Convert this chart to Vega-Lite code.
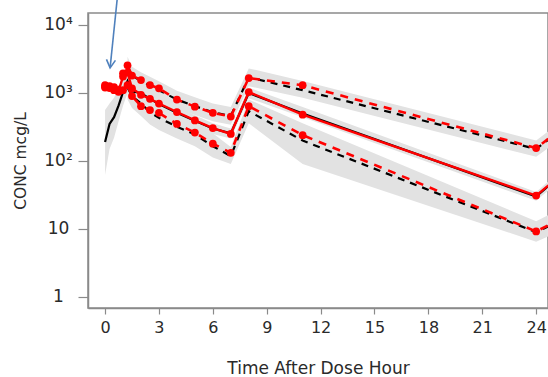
{
  "$schema": "https://vega.github.io/schema/vega-lite/v6.json",
  "width": 460,
  "height": 295,
  "autosize": "none",
  "padding": {"left": 88, "top": 13, "right": 0, "bottom": 69},
  "background": "white",
  "config": {
    "view": {"stroke": "#8a8a8a", "strokeWidth": 1.5},
    "axis": {"grid": false, "labelFont": "DejaVu Sans", "titleFont": "DejaVu Sans", "labelColor": "#2a2a2a", "titleColor": "#2a2a2a", "titleFontWeight": "normal", "domainColor": "#8a8a8a", "domainWidth": 1.5, "tickColor": "#8a8a8a", "tickWidth": 1.2}
  },
  "datasets": {
    "obs": [
      {"p": "q95", "t": 0, "v": 1300}, {"p": "q95", "t": 0.25, "v": 1260}, {"p": "q95", "t": 0.5, "v": 1220}, {"p": "q95", "t": 0.75, "v": 1100}, {"p": "q95", "t": 1, "v": 1950}, {"p": "q95", "t": 1.25, "v": 2550}, {"p": "q95", "t": 1.5, "v": 1800}, {"p": "q95", "t": 2, "v": 1550}, {"p": "q95", "t": 2.5, "v": 1310}, {"p": "q95", "t": 3, "v": 1170}, {"p": "q95", "t": 4, "v": 800}, {"p": "q95", "t": 5, "v": 630}, {"p": "q95", "t": 6, "v": 510}, {"p": "q95", "t": 7, "v": 450}, {"p": "q95", "t": 8, "v": 1660}, {"p": "q95", "t": 11, "v": 1300}, {"p": "q95", "t": 24, "v": 155}, {"p": "q95", "t": 26, "v": 390},
      {"p": "q50", "t": 0, "v": 1250}, {"p": "q50", "t": 0.25, "v": 1220}, {"p": "q50", "t": 0.5, "v": 1150}, {"p": "q50", "t": 0.75, "v": 1070}, {"p": "q50", "t": 1, "v": 1740}, {"p": "q50", "t": 1.25, "v": 2000}, {"p": "q50", "t": 1.5, "v": 1170}, {"p": "q50", "t": 2, "v": 940}, {"p": "q50", "t": 2.5, "v": 820}, {"p": "q50", "t": 3, "v": 700}, {"p": "q50", "t": 4, "v": 525}, {"p": "q50", "t": 5, "v": 395}, {"p": "q50", "t": 6, "v": 305}, {"p": "q50", "t": 7, "v": 250}, {"p": "q50", "t": 8, "v": 1030}, {"p": "q50", "t": 11, "v": 480}, {"p": "q50", "t": 24, "v": 31}, {"p": "q50", "t": 26, "v": 85},
      {"p": "q05", "t": 0, "v": 1200}, {"p": "q05", "t": 0.25, "v": 1180}, {"p": "q05", "t": 0.5, "v": 1100}, {"p": "q05", "t": 0.75, "v": 1040}, {"p": "q05", "t": 1, "v": 1100}, {"p": "q05", "t": 1.25, "v": 1300}, {"p": "q05", "t": 1.5, "v": 900}, {"p": "q05", "t": 2, "v": 640}, {"p": "q05", "t": 2.5, "v": 560}, {"p": "q05", "t": 3, "v": 510}, {"p": "q05", "t": 4, "v": 350}, {"p": "q05", "t": 5, "v": 262}, {"p": "q05", "t": 6, "v": 180}, {"p": "q05", "t": 7, "v": 132}, {"p": "q05", "t": 8, "v": 640}, {"p": "q05", "t": 11, "v": 240}, {"p": "q05", "t": 24, "v": 9.2}, {"p": "q05", "t": 26, "v": 17}
    ],
    "pred": [
      {"p": "m50", "t": 0, "v": 190}, {"p": "m50", "t": 0.25, "v": 350}, {"p": "m50", "t": 0.5, "v": 440}, {"p": "m50", "t": 0.75, "v": 650}, {"p": "m50", "t": 1, "v": 1030}, {"p": "m50", "t": 1.25, "v": 1500}, {"p": "m50", "t": 1.5, "v": 1050}, {"p": "m50", "t": 2, "v": 1000}, {"p": "m50", "t": 2.5, "v": 820}, {"p": "m50", "t": 3, "v": 690}, {"p": "m50", "t": 4, "v": 510}, {"p": "m50", "t": 5, "v": 390}, {"p": "m50", "t": 6, "v": 300}, {"p": "m50", "t": 7, "v": 255}, {"p": "m50", "t": 8, "v": 1000}, {"p": "m50", "t": 11, "v": 500}, {"p": "m50", "t": 24, "v": 30}, {"p": "m50", "t": 26, "v": 85},
      {"p": "m95", "t": 1.25, "v": 2400}, {"p": "m95", "t": 1.5, "v": 1800}, {"p": "m95", "t": 2, "v": 1500}, {"p": "m95", "t": 2.5, "v": 1280}, {"p": "m95", "t": 3, "v": 1100}, {"p": "m95", "t": 4, "v": 800}, {"p": "m95", "t": 5, "v": 640}, {"p": "m95", "t": 6, "v": 520}, {"p": "m95", "t": 7, "v": 460}, {"p": "m95", "t": 8, "v": 1700}, {"p": "m95", "t": 11, "v": 1100}, {"p": "m95", "t": 24, "v": 150}, {"p": "m95", "t": 26, "v": 380},
      {"p": "m05", "t": 1.25, "v": 1200}, {"p": "m05", "t": 1.5, "v": 900}, {"p": "m05", "t": 2, "v": 700}, {"p": "m05", "t": 2.5, "v": 520}, {"p": "m05", "t": 3, "v": 430}, {"p": "m05", "t": 4, "v": 320}, {"p": "m05", "t": 5, "v": 245}, {"p": "m05", "t": 6, "v": 165}, {"p": "m05", "t": 7, "v": 118}, {"p": "m05", "t": 8, "v": 540}, {"p": "m05", "t": 11, "v": 200}, {"p": "m05", "t": 24, "v": 9}, {"p": "m05", "t": 26, "v": 16}
    ],
    "band": [
      {"b": "bm", "t": 0, "v": 62, "v2": 560}, {"b": "bm", "t": 0.25, "v": 150, "v2": 700}, {"b": "bm", "t": 0.5, "v": 220, "v2": 850}, {"b": "bm", "t": 0.75, "v": 380, "v2": 1150}, {"b": "bm", "t": 1, "v": 650, "v2": 1700}, {"b": "bm", "t": 1.25, "v": 1000, "v2": 2300}, {"b": "bm", "t": 1.5, "v": 800, "v2": 1400}, {"b": "bm", "t": 2, "v": 750, "v2": 1250}, {"b": "bm", "t": 2.5, "v": 650, "v2": 1030}, {"b": "bm", "t": 3, "v": 550, "v2": 870}, {"b": "bm", "t": 4, "v": 420, "v2": 630}, {"b": "bm", "t": 5, "v": 320, "v2": 470}, {"b": "bm", "t": 6, "v": 250, "v2": 360}, {"b": "bm", "t": 7, "v": 215, "v2": 300}, {"b": "bm", "t": 8, "v": 840, "v2": 1200}, {"b": "bm", "t": 11, "v": 440, "v2": 620}, {"b": "bm", "t": 24, "v": 26, "v2": 35}, {"b": "bm", "t": 26, "v": 72, "v2": 100},
      {"b": "bu", "t": 1.25, "v": 1700, "v2": 3400}, {"b": "bu", "t": 1.5, "v": 1330, "v2": 2430}, {"b": "bu", "t": 2, "v": 1110, "v2": 2020}, {"b": "bu", "t": 2.5, "v": 950, "v2": 1730}, {"b": "bu", "t": 3, "v": 815, "v2": 1485}, {"b": "bu", "t": 4, "v": 590, "v2": 1080}, {"b": "bu", "t": 5, "v": 475, "v2": 865}, {"b": "bu", "t": 6, "v": 385, "v2": 700}, {"b": "bu", "t": 7, "v": 340, "v2": 620}, {"b": "bu", "t": 8, "v": 1260, "v2": 2300}, {"b": "bu", "t": 11, "v": 850, "v2": 1500}, {"b": "bu", "t": 24, "v": 115, "v2": 200}, {"b": "bu", "t": 26, "v": 280, "v2": 510},
      {"b": "bl", "t": 1.25, "v": 800, "v2": 1800}, {"b": "bl", "t": 1.5, "v": 600, "v2": 1350}, {"b": "bl", "t": 2, "v": 460, "v2": 1050}, {"b": "bl", "t": 2.5, "v": 345, "v2": 785}, {"b": "bl", "t": 3, "v": 285, "v2": 650}, {"b": "bl", "t": 4, "v": 215, "v2": 480}, {"b": "bl", "t": 5, "v": 165, "v2": 370}, {"b": "bl", "t": 6, "v": 113, "v2": 255}, {"b": "bl", "t": 7, "v": 90, "v2": 160}, {"b": "bl", "t": 8, "v": 360, "v2": 800}, {"b": "bl", "t": 11, "v": 90, "v2": 360}, {"b": "bl", "t": 24, "v": 6.5, "v2": 13}, {"b": "bl", "t": 26, "v": 11, "v2": 24}
    ],
    "arrow": [
      {"t": 0.67, "v": 23300}, {"t": 0.28, "v": 2335}
    ],
    "minor": [
      {"v": 2}, {"v": 3}, {"v": 4}, {"v": 5}, {"v": 6}, {"v": 7}, {"v": 8}, {"v": 9},
      {"v": 20}, {"v": 30}, {"v": 40}, {"v": 50}, {"v": 60}, {"v": 70}, {"v": 80}, {"v": 90},
      {"v": 200}, {"v": 300}, {"v": 400}, {"v": 500}, {"v": 600}, {"v": 700}, {"v": 800}, {"v": 900},
      {"v": 2000}, {"v": 3000}, {"v": 4000}, {"v": 5000}, {"v": 6000}, {"v": 7000}, {"v": 8000}, {"v": 9000}
    ]
  },
  "encoding": {
    "x": {"field": "t", "type": "quantitative", "scale": {"domain": [-0.95, 24.66], "nice": false, "zero": false},
      "axis": {"values": [0, 3, 6, 9, 12, 15, 18, 21, 24], "format": "d", "tickSize": 6, "labelFontSize": 16, "labelPadding": 5, "title": "Time After Dose Hour", "titleFontSize": 17, "titlePadding": 25}},
    "y": {"field": "v", "type": "quantitative", "scale": {"type": "log", "domain": [0.689, 15000], "nice": false},
      "axis": {"values": [1, 10, 100, 1000, 10000],
        "tickSize": 10,
        "labelFontSize": 17, "labelAlign": "center", "labelPadding": 20, "labelBaseline": "middle",
        "labelExpr": "datum.value == 10000 ? '10⁴' : datum.value == 1000 ? '10³' : datum.value == 100 ? '10²' : datum.value == 10 ? '10' : '1'",
        "title": "CONC mcg/L", "titleFontSize": 15.5, "titlePadding": 15}}
  },
  "layer": [
    {"data": {"name": "band"}, "mark": {"type": "area", "color": "#e2e2e2", "opacity": 1, "clip": true},
      "encoding": {"y2": {"field": "v2"}, "detail": {"field": "b"}}},
    {"data": {"name": "minor"}, "mark": {"type": "rule", "color": "#8a8a8a", "strokeWidth": 1.2, "clip": false},
      "encoding": {"x": {"datum": -1.29}, "x2": {"datum": -0.95}}},
    {"data": {"name": "pred"}, "transform": [{"filter": "datum.p == 'm50'"}], "mark": {"type": "line", "color": "#000000", "strokeWidth": 2.2, "clip": true}},
    {"data": {"name": "pred"}, "transform": [{"filter": "datum.p != 'm50'"}], "mark": {"type": "line", "color": "#000000", "strokeWidth": 2.2, "strokeDash": [7, 6], "clip": true},
      "encoding": {"detail": {"field": "p"}}},
    {"data": {"name": "obs"}, "transform": [{"filter": "datum.p == 'q50'"}], "mark": {"type": "line", "color": "#ff0000", "strokeWidth": 2.4, "clip": true}},
    {"data": {"name": "obs"}, "transform": [{"filter": "datum.p != 'q50'"}], "mark": {"type": "line", "color": "#ff0000", "strokeWidth": 2.6, "strokeDash": [8, 7], "strokeDashOffset": 4, "clip": true},
      "encoding": {"detail": {"field": "p"}}},
    {"data": {"name": "obs"}, "mark": {"type": "point", "filled": true, "color": "#ff0000", "size": 60, "opacity": 1, "clip": true}},
    {"data": {"name": "arrow"}, "mark": {"type": "line", "color": "#4f81bd", "strokeWidth": 1.6, "clip": false}},
    {"data": {"name": "arrow"}, "transform": [{"filter": "datum.v < 3000"}], "mark": {"type": "point", "shape": "M-1,-1.8L0,0L1,-1.8", "filled": false, "color": "#4f81bd", "strokeWidth": 1.6, "size": 81, "angle": 6, "opacity": 1, "clip": false}}
  ]
}
